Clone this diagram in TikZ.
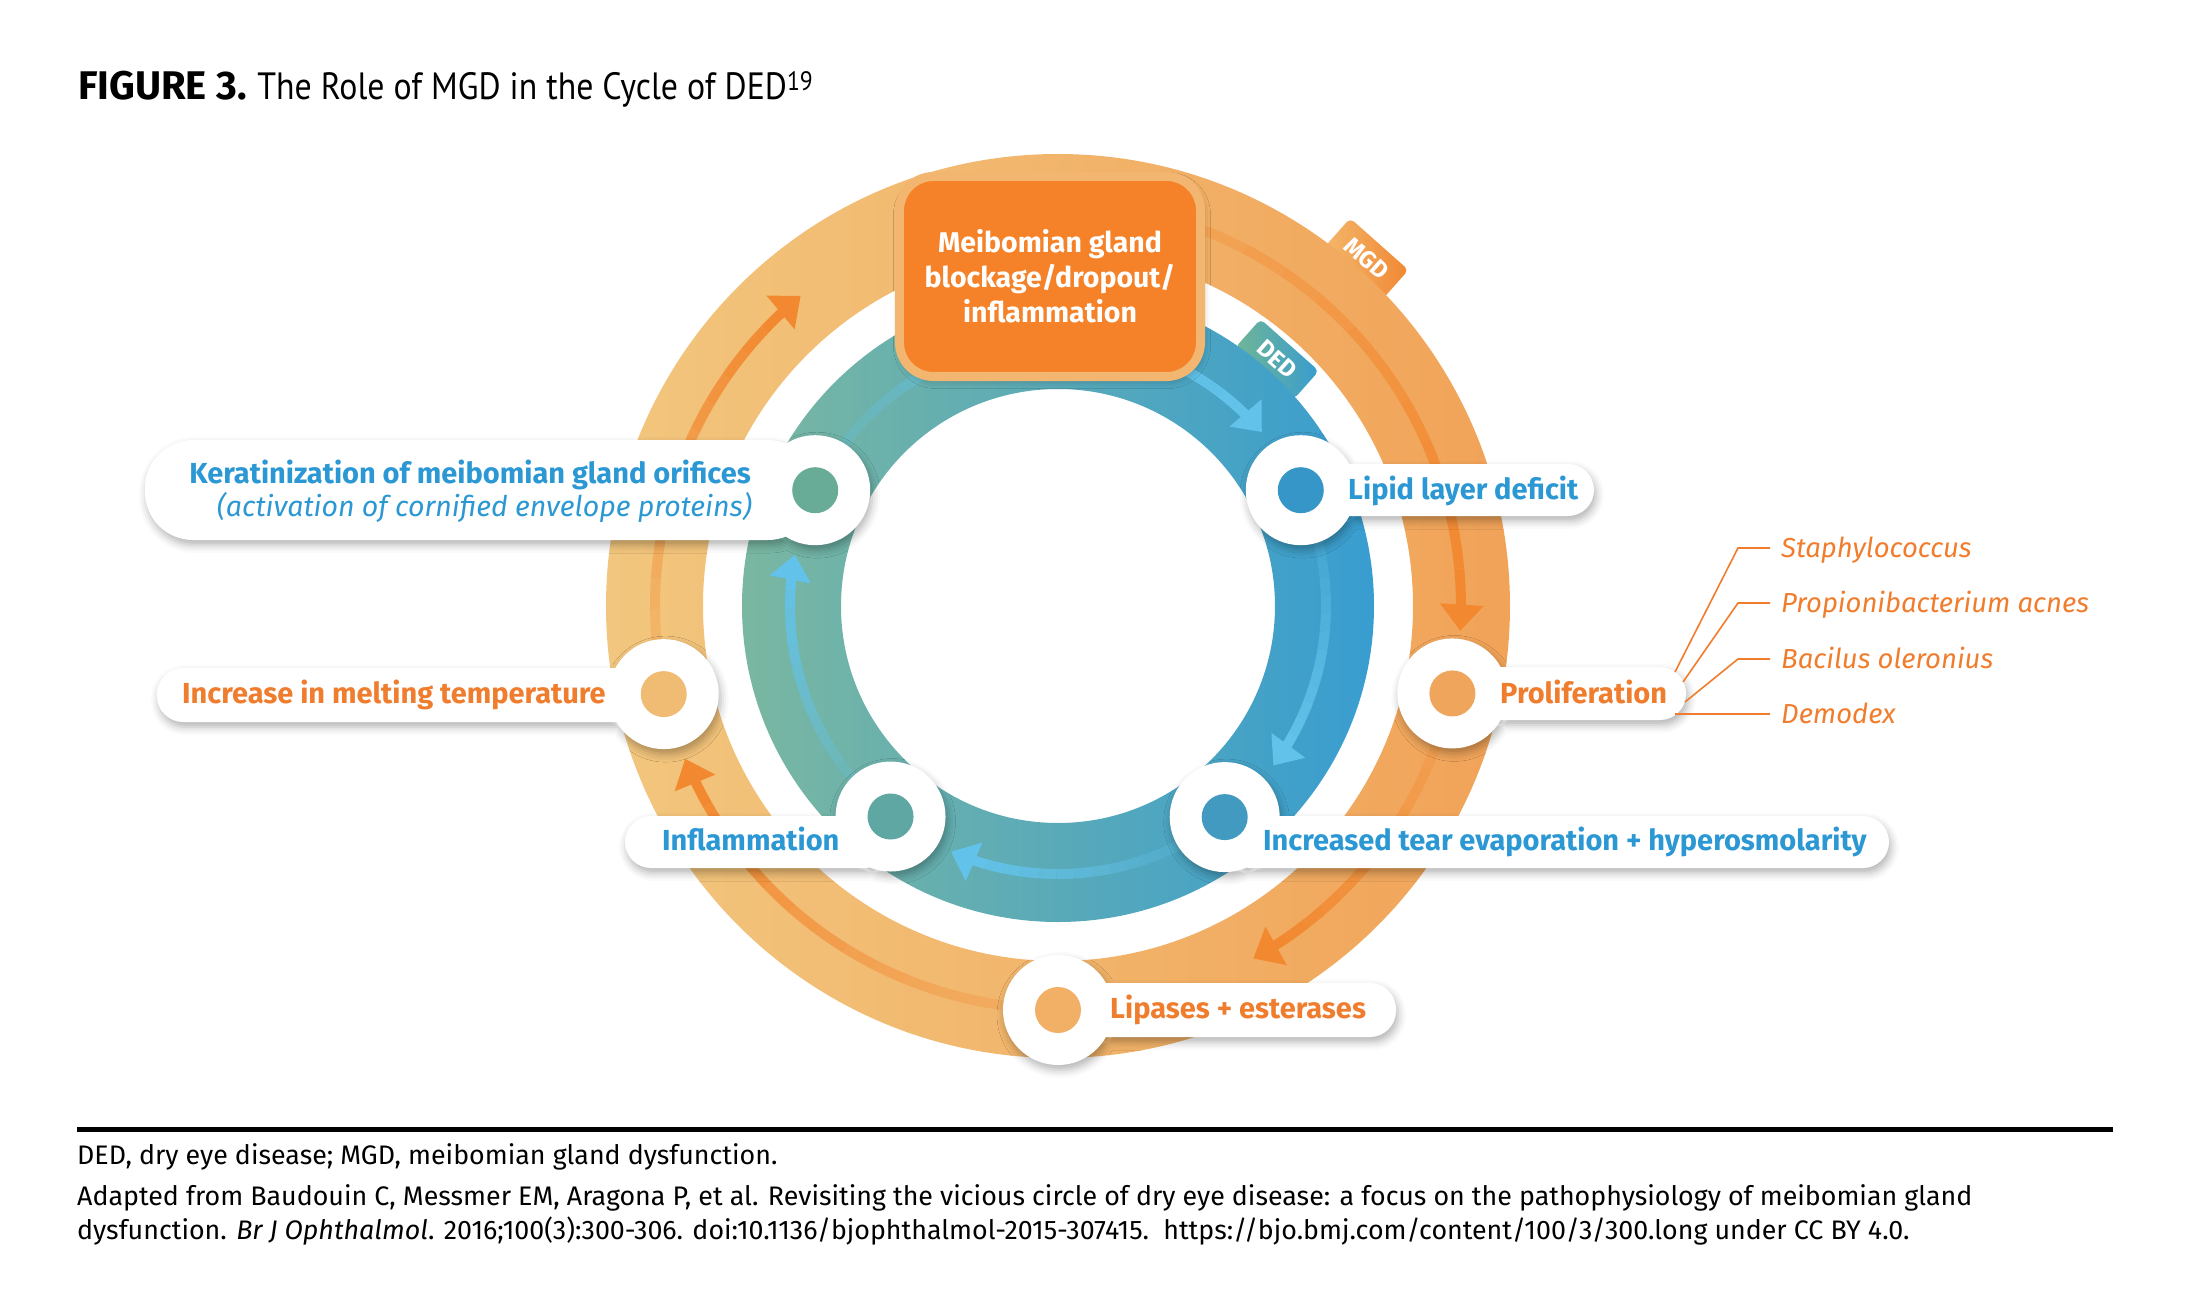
\documentclass[tikz,border=0pt]{standalone}
\usepackage{fontspec}
\setmainfont{Fira Sans}
\newfontfamily\titlefont{PT Sans}
\usetikzlibrary{shadows.blur}

\definecolor{ringOL}{RGB}{242,198,126}
\definecolor{ringOR}{RGB}{241,163,88}
\definecolor{ringTL}{RGB}{122,183,161}
\definecolor{ringTR}{RGB}{56,157,208}
\definecolor{trackO}{RGB}{242,136,48}
\definecolor{trackT}{RGB}{98,194,234}
\definecolor{boxOrange}{RGB}{245,130,40}
\definecolor{boxEdge}{RGB}{243,182,112}
\definecolor{txtOrange}{RGB}{240,125,45}
\definecolor{txtBlue}{RGB}{43,152,212}
\definecolor{tagOL}{RGB}{244,182,106}
\definecolor{tagOR}{RGB}{240,136,52}
\definecolor{tagTL}{RGB}{112,182,150}
\definecolor{tagTR}{RGB}{56,156,206}

\begin{document}
\begin{tikzpicture}[x=1pt, y=1pt]
    \tikzstyle{otrack}=[line width=10pt]
    \tikzstyle{tag}=[rounded corners=5pt, minimum width=78pt, minimum height=38pt, inner sep=0pt, text=white, font=\fontsize{24}{24}\selectfont\bfseries]
    \tikzstyle{pill}=[fill=white, blur shadow={shadow xshift=2pt, shadow yshift=-5pt, shadow blur radius=8pt, shadow opacity=30}]
    \tikzstyle{dot}=[circle, minimum size=46pt, inner sep=0pt]
    \tikzstyle{label}=[inner sep=0pt, font=\fontsize{29}{32}\selectfont\bfseries]
    \tikzstyle{bact}=[inner sep=0pt, text height=19pt, text depth=1pt, text=txtOrange, font=\fontsize{27.5}{32}\selectfont\itshape, anchor=base west]
    \tikzstyle{bactline}=[draw=txtOrange, line width=1.6pt]
    \tikzstyle{centerbox}=[draw=boxEdge, line width=9pt, fill=boxOrange, rounded corners=34pt, minimum width=301pt, minimum height=200pt, align=center, text=white, font=\fontsize{28.5}{35}\selectfont\bfseries, blur shadow={shadow xshift=2pt, shadow yshift=-4pt, shadow blur radius=8pt, shadow opacity=25}]
    \tikzstyle{foot}=[anchor=base west, inner sep=0pt, font=\fontsize{26.8}{28}\selectfont]

    \useasboundingbox (-1058,-709) rectangle (1129,606);

    % tabs, behind the rings
    \node[tag, left color=tagOL, right color=tagOR, rotate=-41.6] (mgdtag) at (48.4:465) {MGD};
    \node[tag, left color=tagTL, right color=tagTR, rotate=-41.6] (dedtag) at (48.4:330) {DED};

    % rings
    \shade[left color=ringOL, right color=ringOR, even odd rule] (0,0) circle[radius=452] (0,0) circle[radius=355];
    \shade[left color=ringTL, right color=ringTR, even odd rule] (0,0) circle[radius=316] (0,0) circle[radius=217];

    % MGD arrows (outer ring), fading towards the tail
    \foreach \ang/\tip in {75/-3.5, -20.5/-61, -98/-157.7, -175.2/-230.3}{
        \pgfmathsetmacro\tipend{\tip+2.5}
        \foreach \k in {1,...,12}{
            \pgfmathsetmacro\pa{\ang+(\tipend-\ang)*(\k-1)/12}
            \pgfmathsetmacro\pb{\ang+(\tipend-\ang)*\k/12}
            \pgfmathtruncatemacro\mx{20+80*\k/12}
            \pgfmathtruncatemacro\tx{50+44.6*cos((\pa+\pb)/2)}
            \colorlet{ringhere}{ringOR!\tx!ringOL}
            \draw[otrack, draw=trackO!\mx!ringhere] (\pa:403) arc[start angle=\pa, end angle=\pb, radius=403];
        }
        \fill[trackO, shift={(\tip:403)}, rotate=\tip] (0,0) -- (22,26) -- (-22,26) -- cycle;
    }

    % DED arrows (inner ring)
    \foreach \ang/\tip in {142.7/40.5, 13.7/-36.5, -63.5/-113.5, -140.3/-191}{
        \pgfmathsetmacro\tipend{\tip+4}
        \foreach \k in {1,...,12}{
            \pgfmathsetmacro\pa{\ang+(\tipend-\ang)*(\k-1)/12}
            \pgfmathsetmacro\pb{\ang+(\tipend-\ang)*\k/12}
            \pgfmathtruncatemacro\mx{15+85*\k/12}
            \pgfmathtruncatemacro\tx{50+42.4*cos((\pa+\pb)/2)}
            \colorlet{ringhere}{ringTR!\tx!ringTL}
            \draw[otrack, draw=trackT!\mx!ringhere] (\pa:268) arc[start angle=\pa, end angle=\pb, radius=268];
        }
        \fill[trackT, shift={(\tip:268)}, rotate=\tip] (0,0) -- (21,25) -- (-21,25) -- cycle;
    }

    % top box
    \node[centerbox] (mgdbox) at (-8,329.5) {Meibomian gland\\blockage/dropout/\\inflammation};

    % stations on the rings
    \coordinate (kerapos) at (154.5:269);
    \coordinate (lipidpos) at (25.5:269);
    \coordinate (prolifpos) at (-12.5:404);
    \coordinate (tearpos) at (-51.7:269);
    \coordinate (lipasepos) at (-90:404);
    \coordinate (inflampos) at (-128.5:269);
    \coordinate (meltpos) at (192.6:404);

    \path[pill] (kerapos) circle[radius=55] (-913,166) [rounded corners=48pt] rectangle (-242,66);
    \path[pill] (lipidpos) circle[radius=55] (242,142) [rounded corners=26pt] rectangle (536,90);
    \path[pill] (prolifpos) circle[radius=55] (394,-61) [rounded corners=26pt] rectangle (628,-114);
    \path[pill] (tearpos) circle[radius=55] (166,-210) [rounded corners=26pt] rectangle (831,-262);
    \path[pill] (lipasepos) circle[radius=55] (0,-377) [rounded corners=26pt] rectangle (338,-431);
    \path[pill] (inflampos) circle[radius=55] (-433,-210) [rounded corners=26pt] rectangle (-167,-262);
    \path[pill] (meltpos) circle[radius=55] (-901,-62) [rounded corners=26pt] rectangle (-394,-116);

    \node[dot, fill={rgb,255:red,104;green,172;blue,151}] (kera) at (kerapos) {};
    \node[dot, fill={rgb,255:red,55;green,150;blue,200}] (lipid) at (lipidpos) {};
    \node[dot, fill={rgb,255:red,240;green,165;blue,92}] (prolif) at (prolifpos) {};
    \node[dot, fill={rgb,255:red,66;green,154;blue,193}] (tear) at (tearpos) {};
    \node[dot, fill={rgb,255:red,242;green,176;blue,102}] (lipase) at (lipasepos) {};
    \node[dot, fill={rgb,255:red,94;green,167;blue,162}] (inflam) at (inflampos) {};
    \node[dot, fill={rgb,255:red,240;green,188;blue,115}] (melt) at (meltpos) {};

    % labels
    \node[label, text=txtBlue, anchor=base east] (keratxt) at (-307,123) {Keratinization of meibomian gland orifices};
    \node[label, text=txtBlue, anchor=base east, font=\fontsize{28.5}{32}\selectfont\itshape] (kerasub) at (-306,90) {(activation of cornified envelope proteins)};
    \node[label, text=txtBlue, anchor=base west] (lipidtxt) at (290,107) {Lipid layer deficit};
    \node[label, text=txtOrange, anchor=base west] (proliftxt) at (442,-97) {Proliferation};
    \node[label, text=txtBlue, anchor=base west] (teartxt) at (205,-244) {Increased tear evaporation + hyperosmolarity};
    \node[label, text=txtOrange, anchor=base west] (lipasetxt) at (52,-412) {Lipases + esterases};
    \node[label, text=txtBlue, anchor=base west] (inflamtxt) at (-396,-244) {Inflammation};
    \node[label, text=txtOrange, anchor=base west] (melttxt) at (-876,-97) {Increase in melting temperature};

    % bacteria
    \node[bact] (staph) at (723,49) {Staphylococcus};
    \node[bact] (propi) at (723,-6) {Propionibacterium acnes};
    \node[bact] (bacil) at (723,-62) {Bacilus oleronius};
    \node[bact] (demod) at (723,-117) {Demodex};
    \coordinate (pr1) at (617,-66);
    \coordinate (pr2) at (625,-76);
    \coordinate (pr3) at (627,-96);
    \coordinate (pr4) at (617,-108);
    \draw[bactline] (pr1) -- ([xshift=-43pt]staph.west) -- ([xshift=-11pt]staph.west);
    \draw[bactline] (pr2) -- ([xshift=-43pt]propi.west) -- ([xshift=-11pt]propi.west);
    \draw[bactline] (pr3) -- ([xshift=-43pt]bacil.west) -- ([xshift=-11pt]bacil.west);
    \draw[bactline] (pr4) -- ([xshift=-11pt]demod.west);

    % title and notes
    \node[anchor=base west, inner sep=0pt, font=\fontsize{40}{48}\selectfont] (figtitle) at (-980,506) {{\bfseries FIGURE 3.}\ \scalebox{0.89}[1]{\titlefont\fontsize{38}{48}\selectfont The Role of MGD in the Cycle of DED\textsuperscript{19}}};
    \coordinate (ruleL) at (-981,-523.5);
    \coordinate (ruleR) at (1055,-523.5);
    \draw[line width=5pt] (ruleL) -- (ruleR);
    \node[foot] (abbr) at (-981,-558) {DED, dry eye disease; MGD, meibomian gland dysfunction.};
    \node[foot] (src1) at (-981,-599) {Adapted from Baudouin C, Messmer EM, Aragona P, et al. Revisiting the vicious circle of dry eye disease: a focus on the pathophysiology of meibomian gland};
    \node[foot] (src2) at (-981,-633) {dysfunction. \textit{Br J Ophthalmol}. 2016;100(3):300-306. doi:10.1136/bjophthalmol-2015-307415.\ \ https://bjo.bmj.com/content/100/3/300.long under CC BY 4.0.};
\end{tikzpicture}
\end{document}
